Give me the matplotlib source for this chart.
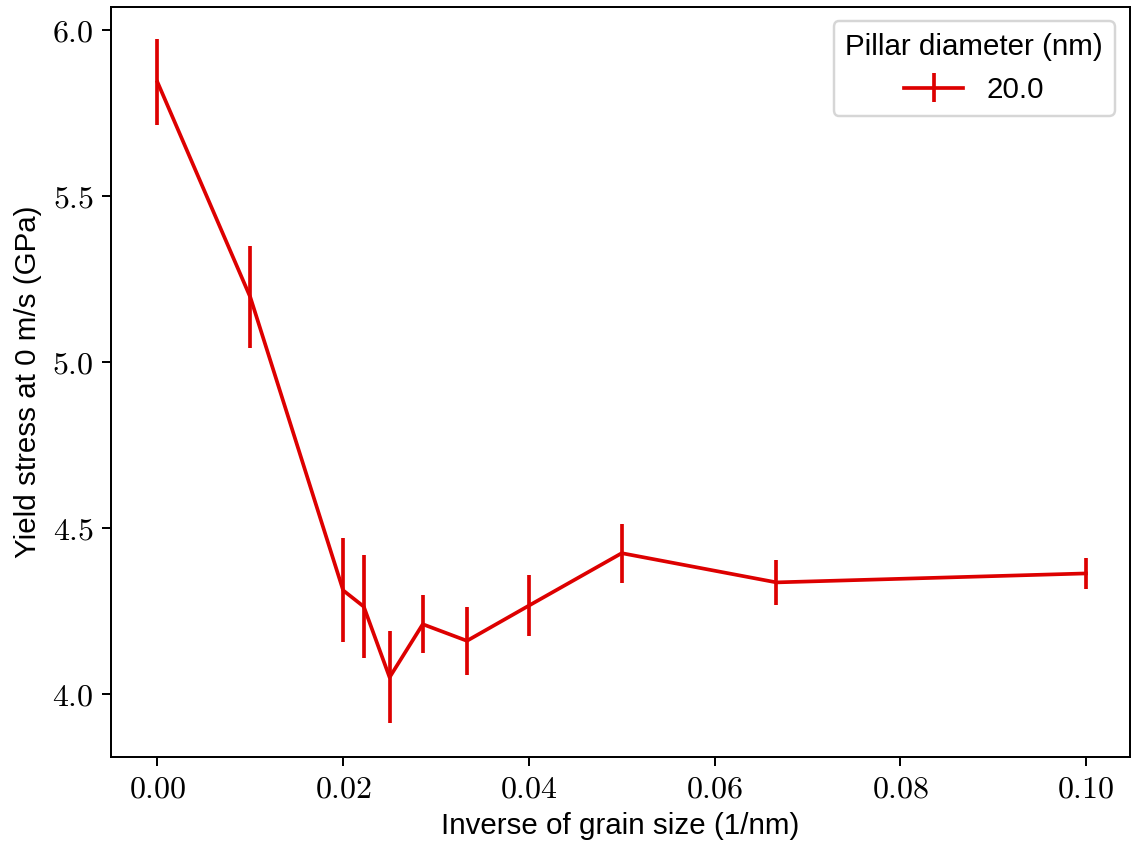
import matplotlib
matplotlib.use("Agg")
import matplotlib.pyplot as plt
from matplotlib.ticker import FuncFormatter, MultipleLocator

# inverse grain size (1/nm), yield stress (GPa) and its error
inv_grain = [0.0, 0.01, 0.02, 1/45, 0.025, 1/35, 1/30, 0.04, 0.05, 1/15, 0.1]
stress = [5.843, 5.195, 4.312, 4.263, 4.050, 4.210, 4.160, 4.266, 4.424, 4.336, 4.363]
stress_err = [0.129, 0.154, 0.157, 0.155, 0.139, 0.088, 0.103, 0.091, 0.089, 0.067, 0.047]
label = "20.0"

plt.rcParams['font.family'] = ['Liberation Sans', 'DejaVu Sans']
plt.rcParams['mathtext.fontset'] = 'cm'
plt.rcParams['font.size'] = 12

dpi = 177
fig, ax = plt.subplots(figsize=(1133 / dpi, 843 / dpi), dpi=dpi)
fig.subplots_adjust(left=0.098, right=0.997, top=0.992, bottom=0.102)

ax.errorbar(inv_grain, stress, yerr=stress_err, color='#dd0000', lw=1.5,
            elinewidth=1.5, label=label)

ax.set_xlabel("Inverse of grain size (1/nm)", fontsize=12, labelpad=3)
ax.set_ylabel("Yield stress at 0 m/s (GPa)", fontsize=12)
ax.xaxis.set_major_locator(MultipleLocator(0.02))
ax.yaxis.set_major_locator(MultipleLocator(0.5))
ax.xaxis.set_major_formatter(FuncFormatter(lambda v, p: f"${v:.2f}$"))
ax.yaxis.set_major_formatter(FuncFormatter(lambda v, p: f"${v:.1f}$"))
ax.tick_params(labelsize=13)
ax.set_xlim(-0.005, 0.1047)
ax.set_ylim(3.81, 6.07)

ax.legend(title="Pillar diameter (nm)", loc='upper right', fontsize=12,
          title_fontsize=12)

fig.savefig("out.png", dpi=dpi)
